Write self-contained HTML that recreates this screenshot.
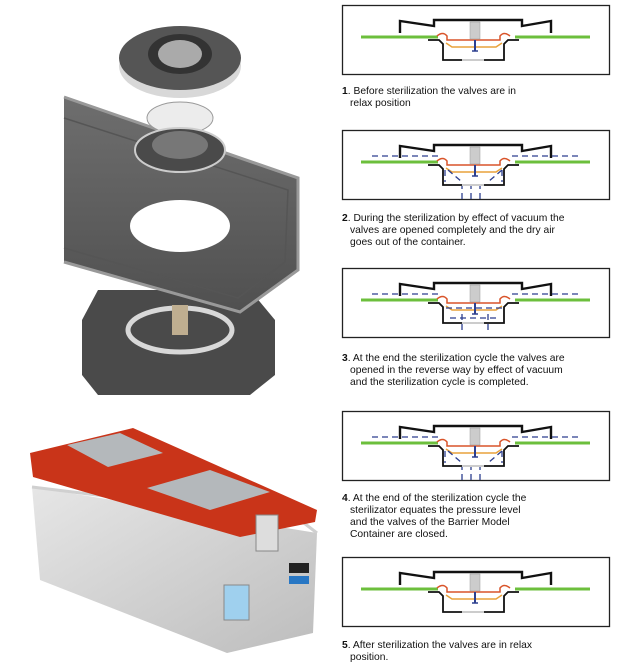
<!DOCTYPE html>
<html><head><meta charset="utf-8"><style>
html,body{margin:0;padding:0;background:#fff;width:624px;height:668px;overflow:hidden}
.t{position:absolute;left:342px;font-family:"Liberation Sans",sans-serif;font-size:10.3px;line-height:12px;color:#111;width:270px}
.t b{font-weight:bold}
.t span{display:block;padding-left:8px}
</style></head><body>
<svg width="624" height="668" style="position:absolute;left:0;top:0">
<defs>
<g id="v">
<rect x="0.5" y="0.5" width="267" height="69" fill="#fff" stroke="#222" stroke-width="1.3"/>
<line x1="19" y1="32" x2="96" y2="32" stroke="#6cbf3c" stroke-width="3"/>
<line x1="173" y1="32" x2="248" y2="32" stroke="#6cbf3c" stroke-width="3"/>
<polyline points="58,28 58,16 92,21 92,15 180,15 180,21 209,16 209,28" fill="none" stroke="#111" stroke-width="2.4"/>
<polyline points="86,35 97,35 101,39 101,55 162,55 162,39 166,35 177,35" fill="none" stroke="#111" stroke-width="1.8"/>
<line x1="120" y1="55" x2="142" y2="55" stroke="#ccc" stroke-width="2"/>
<path d="M95,31 Q101,26 105,31 L105,35 L158,35 L158,31 Q162,26 168,31" fill="none" stroke="#d9542a" stroke-width="1.5"/>
<path d="M104,38 L110,42 L154,42 L160,38" fill="none" stroke="#e9a23b" stroke-width="1.5"/>
<rect x="128" y="17" width="10" height="17" fill="#ccc" stroke="#999" stroke-width="0.5"/>
<line x1="133" y1="35" x2="133" y2="46" stroke="#2c3f8f" stroke-width="2"/>
<line x1="130" y1="46" x2="136" y2="46" stroke="#2c3f8f" stroke-width="1.5"/>
</g>
<g id="out" stroke="#2c3f8f" stroke-width="1.3" stroke-dasharray="6,4" fill="none">
<line x1="30" y1="26" x2="98" y2="26"/><line x1="170" y1="26" x2="240" y2="26"/>
<line x1="106" y1="40" x2="120" y2="52"/><line x1="160" y1="40" x2="146" y2="52"/>
<line x1="103" y1="40" x2="103" y2="52"/><line x1="160" y1="40" x2="160" y2="52"/>
<line x1="120" y1="69" x2="120" y2="56"/><line x1="129" y1="69" x2="129" y2="56"/><line x1="138" y1="69" x2="138" y2="56"/>
</g>
<linearGradient id="gl" x1="0" y1="0" x2="0" y2="1"><stop offset="0" stop-color="#6e6e6e"/><stop offset="1" stop-color="#505050"/></linearGradient>
<linearGradient id="al" x1="0" y1="0" x2="1" y2="1"><stop offset="0" stop-color="#e6e6e6"/><stop offset="1" stop-color="#bdbdbd"/></linearGradient>
</defs>
<use href="#v" x="342" y="5"/>
<use href="#v" x="342" y="130"/><use href="#out" x="342" y="130"/>
<use href="#v" x="342" y="268"/>
<g stroke="#2c3f8f" stroke-width="1.3" stroke-dasharray="6,4" fill="none" transform="translate(342,268)">
<line x1="30" y1="26" x2="98" y2="26"/><line x1="170" y1="26" x2="240" y2="26"/>
<line x1="104" y1="40" x2="160" y2="40"/><line x1="108" y1="50" x2="155" y2="50"/>
<line x1="120" y1="62" x2="120" y2="46"/><line x1="146" y1="62" x2="146" y2="46"/>
</g>
<use href="#v" x="342" y="411"/><use href="#out" x="342" y="411"/>
<use href="#v" x="342" y="557"/>
<!-- bottom base -->
<path d="M98,290 L250,290 L275,320 L275,375 L250,395 L98,395 L82,375 L82,320 Z" fill="#4a4a4a"/>
<ellipse cx="180" cy="330" rx="52" ry="22" fill="none" stroke="#d8d8d8" stroke-width="5"/>
<rect x="172" y="305" width="16" height="30" fill="#bfae90"/>
<!-- tray -->
<path d="M64,97 L298,178 L298,270 L240,312 L64,262 Z" fill="url(#gl)"/>
<path d="M64,97 L298,178 L298,270 L240,312 L64,262" fill="none" stroke="#999" stroke-width="3"/>
<path d="M64,118 L288,190 L285,262 L238,298 L64,248" fill="none" stroke="#555" stroke-width="1.5"/>
<ellipse cx="180" cy="226" rx="50" ry="26" fill="#fff"/>
<!-- valve top -->
<ellipse cx="180" cy="66" rx="61" ry="32" fill="#d8d8d8"/>
<ellipse cx="180" cy="58" rx="61" ry="32" fill="#555"/>
<ellipse cx="180" cy="54" rx="32" ry="20" fill="#333"/>
<ellipse cx="180" cy="54" rx="22" ry="14" fill="#aaa"/>
<ellipse cx="180" cy="118" rx="33" ry="16" fill="#ececec" stroke="#999"/>
<ellipse cx="180" cy="150" rx="45" ry="22" fill="#4a4a4a" stroke="#ccc" stroke-width="2"/>
<ellipse cx="180" cy="145" rx="28" ry="14" fill="#777"/>
<!-- container -->
<path d="M32,487 L317,533 L313,633 L227,653 L40,580 Z" fill="url(#al)"/>
<path d="M32,487 L300,520 L317,533" fill="none" stroke="#d0d0d0" stroke-width="3"/>
<path d="M30,453 L133,428 L317,510 L315,522 L240,537 L33,477 Z" fill="#c93419"/>
<path d="M67,445 L120,433 L163,453 L108,467 Z" fill="#b4b8bb"/>
<path d="M147,488 L210,470 L270,492 L210,510 Z" fill="#b4b8bb"/>
<rect x="224" y="585" width="25" height="35" fill="#9fd0ee" stroke="#888"/>
<rect x="289" y="563" width="20" height="10" fill="#222"/>
<rect x="289" y="576" width="20" height="8" fill="#2877c4"/>
<rect x="256" y="515" width="22" height="36" fill="#ddd" stroke="#888"/>
</svg>
<div class="t" style="top:86px"><b>1</b>. Before sterilization the valves are in<span>relax position</span></div>
<div class="t" style="top:213px"><b>2</b>. During the sterilization by effect of vacuum the<span>valves are opened completely and the dry air</span><span>goes out of the container.</span></div>
<div class="t" style="top:353px"><b>3</b>. At the end the sterilization cycle the valves are<span>opened in the reverse way by effect of vacuum</span><span>and the sterilization cycle is completed.</span></div>
<div class="t" style="top:493px"><b>4</b>. At the end of the sterilization cycle the<span>sterilizator equates the pressure level</span><span>and the valves of the Barrier Model</span><span>Container are closed.</span></div>
<div class="t" style="top:640px"><b>5</b>. After sterilization the valves are in relax<span>position.</span></div>
</body></html>
